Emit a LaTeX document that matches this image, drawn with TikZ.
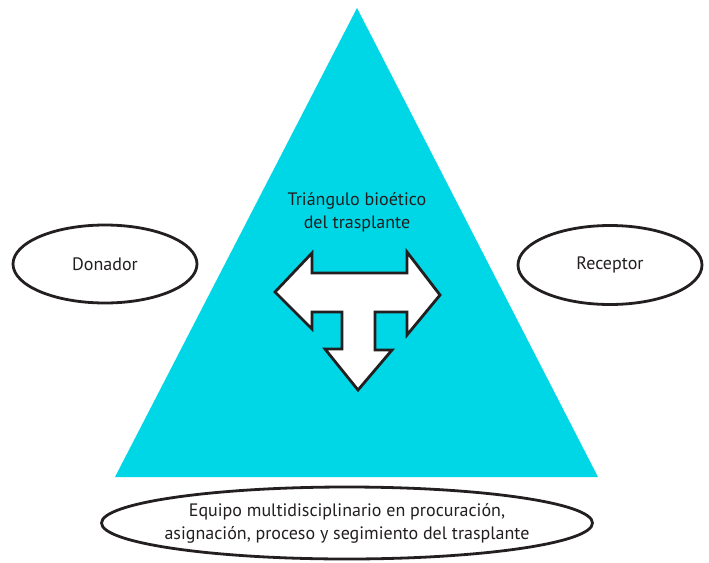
\documentclass[tikz,border=0pt]{standalone}
\usepackage{fontspec}
\setmainfont{PT Sans}
\usetikzlibrary{shapes.geometric}
\definecolor{tricyan}{RGB}{0,215,230}
\definecolor{inkdark}{RGB}{35,31,32}
\tikzset{
  oval/.style={ellipse, draw=inkdark, line width=2.8pt, fill=white, inner sep=0pt, font=\fontsize{18}{23}\selectfont, text=inkdark, align=center},
  label/.style={font=\fontsize{18}{23}\selectfont, text=inkdark, align=center},
  bigarrow/.style={draw=inkdark, line width=2.8pt, fill=white, line join=miter}
}
\begin{document}
\begin{tikzpicture}[x=1pt,y=-1pt]
\useasboundingbox (0,0) rectangle (709,562);
% triangle
\fill[tricyan] (357,8) -- (598,477) -- (115,477) -- cycle;
% T-shaped three-way arrow
\draw[bigarrow] (275,292) -- (312,253) -- (312,273) -- (407,273) -- (407,252)
  -- (440,295) -- (407,335) -- (407,312) -- (375,312) -- (375,350) -- (392,350)
  -- (358,390) -- (325,349) -- (342,349) -- (342,312) -- (312,312) -- (312,329) -- cycle;
\node[label] (title) at (357,212) {Triángulo bioético\\del trasplante};
\node[oval, minimum width=184pt, minimum height=78pt] (donador) at (105,264) {Donador};
\node[oval, minimum width=184pt, minimum height=79pt] (receptor) at (610,265) {Receptor};
\node[oval, minimum width=491pt, minimum height=72pt] (equipo) at (347,523) {};
\node[label] (equipotext) at (equipo.center) {Equipo multidisciplinario en procuración,\\asignación, proceso y segimiento del trasplante};
\end{tikzpicture}
\end{document}
